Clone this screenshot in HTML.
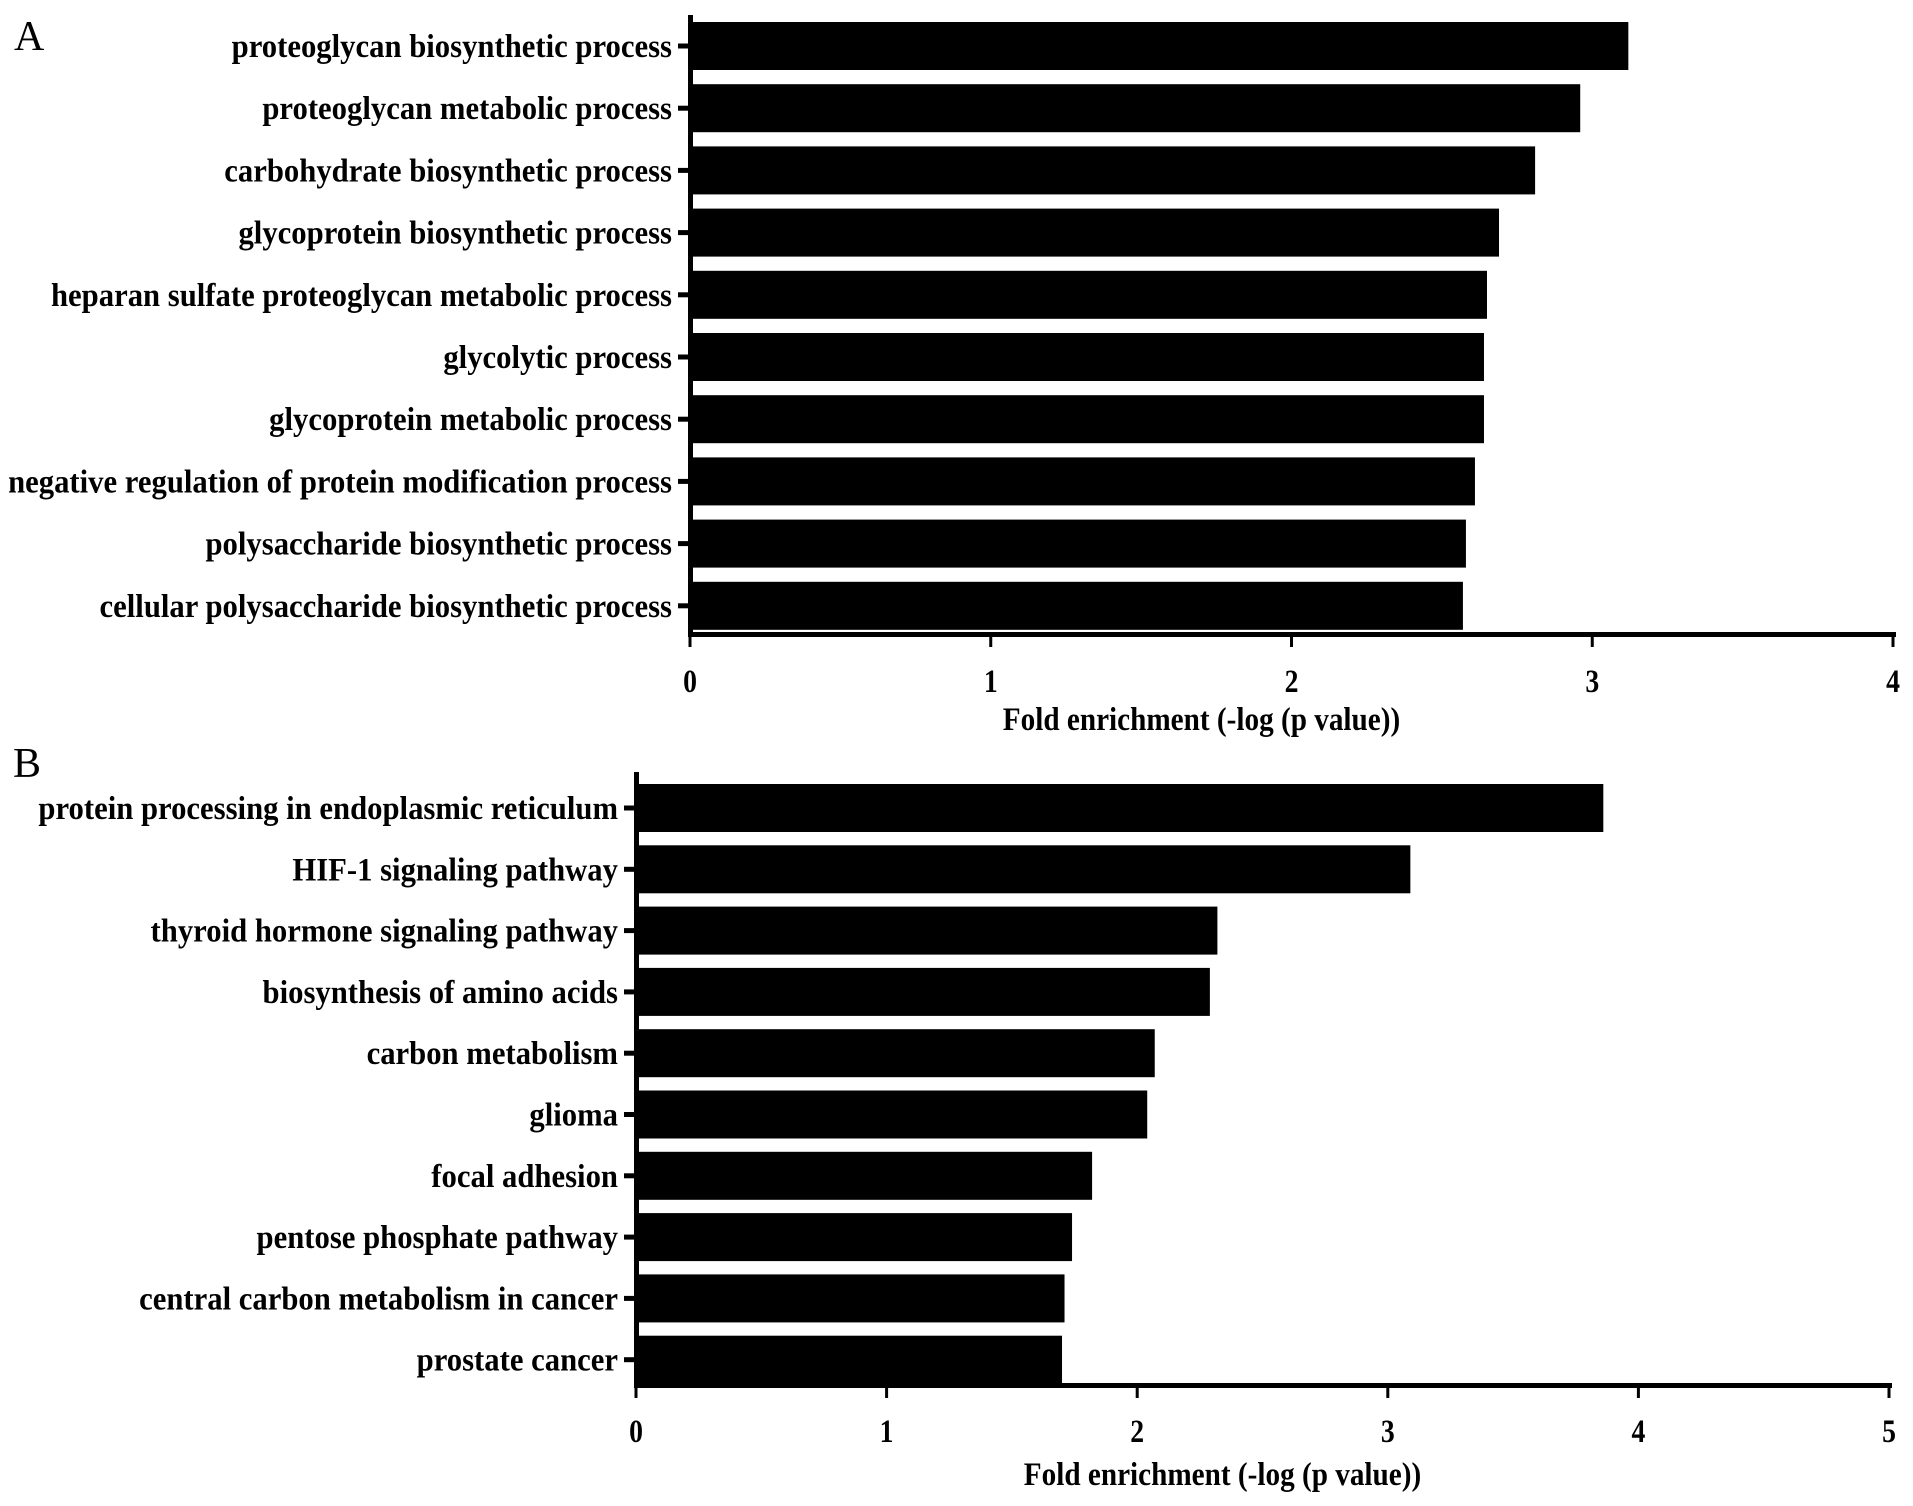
<!DOCTYPE html>
<html><head><meta charset="utf-8"><style>
html,body{margin:0;padding:0;background:#fff}
svg{display:block}
text{font-family:"Liberation Serif",serif;fill:#000}
</style></head><body>
<svg id="chart" width="1913" height="1506" viewBox="0 0 1913 1506"></svg>
<script>
const catsA = ["proteoglycan biosynthetic process","proteoglycan metabolic process","carbohydrate biosynthetic process","glycoprotein biosynthetic process","heparan sulfate proteoglycan metabolic process","glycolytic process","glycoprotein metabolic process","negative regulation of protein modification process","polysaccharide biosynthetic process","cellular polysaccharide biosynthetic process"];
const valsA = [3.12,2.96,2.81,2.69,2.65,2.64,2.64,2.61,2.58,2.57];
const ticksA = [0,1,2,3,4];
const catsB = ["protein processing in endoplasmic reticulum","HIF-1 signaling pathway","thyroid hormone signaling pathway","biosynthesis of amino acids","carbon metabolism","glioma","focal adhesion","pentose phosphate pathway","central carbon metabolism in cancer","prostate cancer"];
const valsB = [3.86,3.09,2.32,2.29,2.07,2.04,1.82,1.74,1.71,1.70];
const ticksB = [0,1,2,3,4,5];
const axisTitle = "Fold enrichment (-log (p value))";

const NS="http://www.w3.org/2000/svg";
const svg=document.getElementById('chart');
function mk(tag,attrs,parent){const e=document.createElementNS(NS,tag);for(const k in attrs)e.setAttribute(k,attrs[k]);(parent||svg).appendChild(e);return e;}

function panel(letter,lx,ly,cats,vals,ticks,x0,x1,axTop,axY,c0,step,barH,tickLabY,titleY,titleOff){
  const g=mk('g',{});
  
  
  const maxT=ticks[ticks.length-1];
  const xs=v=>x0+(x1-x0)*v/maxT;
  const ys=i=>c0+step*i;
  const L=mk('text',{x:lx,y:ly,'font-size':42},g);L.textContent=letter;
  
  
  vals.forEach((v,i)=>{
    const r=mk('rect',{x:xs(0),y:ys(i)-barH/2,width:xs(v)-xs(0),height:barH,fill:'#000'},g);
    
    
    mk('rect',{x:x0-12,y:ys(i)-2.5,width:12,height:5,fill:'#000'},g);
    const tg=mk('g',{transform:`translate(${x0-18},${ys(i)+11}) scale(0.93,1)`},g);
    const t=mk('text',{x:0,y:0,'font-size':33,'font-weight':'bold','text-anchor':'end'},tg);
    t.textContent=cats[i];
    
    
  });
  const ya=mk('rect',{x:x0-2,y:axTop,width:5,height:axY-axTop+3,fill:'#000'},g);
  
  
  const xa=mk('rect',{x:x0-2,y:axY-2,width:x1-x0+5,height:5,fill:'#000'},g);
  
  
  ticks.forEach(t=>{
    mk('rect',{x:xs(t)-1.5,y:axY,width:3,height:13,fill:'#000'},g);
    const tg=mk('g',{transform:`translate(${xs(t)},${tickLabY}) scale(0.84,1)`},g);
    const tl=mk('text',{x:0,y:0,'font-size':33,'font-weight':'bold','text-anchor':'middle'},tg);
    tl.textContent=t;
    
    
  });
  const tg=mk('g',{transform:`translate(${(x0+x1)/2+titleOff},${titleY}) scale(0.885,1)`},g);
  const tt=mk('text',{x:0,y:0,'font-size':33,'font-weight':'bold','text-anchor':'middle'},tg);
  tt.textContent=axisTitle;
  
  
}
panel('A',14,50,catsA,valsA,ticksA,690,1893,15,634,46,62.2,48,692,730,-90);
panel('B',13,777,catsB,valsB,ticksB,636,1889,772,1385,808,61.3,48,1442,1485,-40);
</script>
</body></html>
